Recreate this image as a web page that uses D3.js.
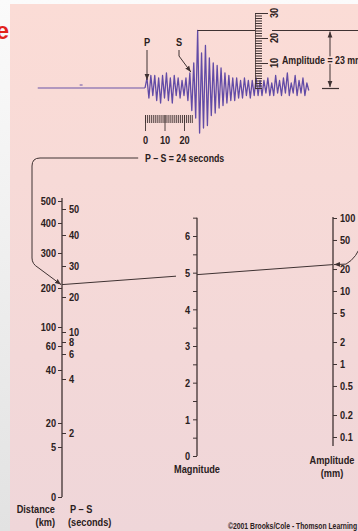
<!DOCTYPE html>
<html>
<head>
<meta charset="utf-8">
<script src="https://cdn.jsdelivr.net/npm/d3@7"></script>
<style>
  html, body { margin: 0; padding: 0; background: #fff; overflow: hidden; }
  svg { display: block; }
  text { font-family: "Liberation Sans", Arial, Helvetica, sans-serif; font-weight: bold; fill: #2a2020; }
</style>
</head>
<body>
<div id="chart"></div>
<script>
// nomogram scales
const distanceKm = [0, 5, 20, 40, 60, 100, 200, 300, 400, 500];
const psSeconds = [2, 4, 6, 8, 10, 20, 30, 40, 50];
const magnitudes = [0, 1, 2, 3, 4, 5, 6];
const magnitudeMinor = [0.5, 1.5, 2.5, 3.5, 4.5, 5.5, 6.5];
const amplitudeMm = [0.1, 0.2, 0.5, 1, 2, 5, 10, 20, 50, 100];

// seismogram readings
const psReading = 24;
const ampReading = 23;
const rulerSeconds = [0, 1, 2, 3, 4, 5, 6, 7, 8, 9, 10, 11, 12, 13, 14, 15, 16, 17, 18, 19, 20, 21, 22, 23, 24];
const rulerLabels = [0, 10, 20];
const ampRulerMm = [0, 1, 2, 3, 4, 5, 6, 7, 8, 9, 10, 11, 12, 13, 14, 15, 16, 17, 18, 19, 20, 21, 22, 23, 24, 25, 26, 27, 28, 29, 30];
const ampRulerLabels = [10, 20, 30];

// trace displacement (mm), one value per second after the P arrival
const waveMm = [
  0, 4, -4, 5, -3, 5, -5, 4, -6, 5, -4, 6, -5, 4, -6, 5, -3, 4, -4, 3, -3, 4, -5, 6,
  -9, 10, -12, 23, -18, 14, -16, 17, -15, 12, -11, 10, -10, 9, -8, 8, -7,
  6, -6, 5, -5, 4, -5, 4, -4, 3, -4, 4, -3, 3, -4, 3, -3, 4, -3, 3, -3,
  3, -2, 4, -3, 2, -3, 5, -2, 3, -3, 4, -2, 6, -3, 2, -2, 5, -3, 3, -2, 4, -3, 2, -1
];

const W = 358, H = 531;
const INK = '#3f3232';
const svg = d3.select('#chart').append('svg').attr('width', W).attr('height', H);
const defs = svg.append('defs');

const bg = defs.append('linearGradient').attr('id', 'bg').attr('x1', 0).attr('x2', 0).attr('y1', 0).attr('y2', 1);
bg.append('stop').attr('offset', '0%').attr('stop-color', '#fbdcd6');
bg.append('stop').attr('offset', '100%').attr('stop-color', '#efd6d9');
const side = defs.append('linearGradient').attr('id', 'side').attr('x1', 0).attr('x2', 0).attr('y1', 0).attr('y2', 1);
side.append('stop').attr('offset', '0%').attr('stop-color', '#fbfbfb');
side.append('stop').attr('offset', '100%').attr('stop-color', '#e2e2e2');

defs.append('marker').attr('id', 'arrow')
  .attr('viewBox', '0 0 10 10').attr('refX', 10).attr('refY', 5)
  .attr('markerWidth', 6).attr('markerHeight', 6).attr('markerUnits', 'userSpaceOnUse')
  .attr('orient', 'auto-start-reverse')
  .append('path').attr('d', 'M0,1L10,5L0,9z').attr('fill', INK);

svg.append('rect').attr('width', W).attr('height', H).attr('fill', 'url(#side)');
svg.append('rect').attr('x', 10).attr('y', 4).attr('width', W - 10).attr('height', H - 4).attr('fill', 'url(#bg)');

// cut-off title letter
svg.append('text').attr('class', 'title').attr('x', 9).attr('y', 39).attr('text-anchor', 'end')
  .style('font-size', '24px').style('fill', '#e2231c').text('e');

/* ---------- Seismogram ---------- */
const tX = d3.scaleLinear().domain([0, 10]).range([145, 164.5]);
const aY = d3.scaleLinear().domain([0, 30]).range([88, 13]);

svg.append('line').attr('x1', tX(-55)).attr('x2', tX(0)).attr('y1', aY(0)).attr('y2', aY(0))
  .attr('stroke', '#6a55a8').attr('stroke-width', 1.2);
svg.append('line').attr('x1', tX(-33.5)).attr('x2', tX(-32)).attr('y1', aY(1.2)).attr('y2', aY(1.2))
  .attr('stroke', '#6a55a8').attr('stroke-width', 1);

svg.append('path').datum(waveMm)
  .attr('fill', 'none').attr('stroke', '#624ba6').attr('stroke-width', 1.3).attr('stroke-linejoin', 'round')
  .attr('d', d3.line().x((d, i) => tX(i)).y(d => aY(d)));

// P and S markers
svg.append('text').attr('x', tX(0) + 2).attr('y', 42).attr('dy', '0.35em').attr('text-anchor', 'middle')
  .style('font-size', '11.5px').text('P');
svg.append('line').attr('x1', tX(0) + 2).attr('x2', tX(0) + 2).attr('y1', 50).attr('y2', 80)
  .attr('stroke', INK).attr('stroke-width', 1).attr('marker-end', 'url(#arrow)');
svg.append('text').attr('x', 179).attr('y', 42).attr('dy', '0.35em').attr('text-anchor', 'middle')
  .style('font-size', '11.5px').text('S');
svg.append('path').attr('d', `M179,50V56L${tX(psReading) - 1},72`)
  .attr('fill', 'none').attr('stroke', INK).attr('stroke-width', 1).attr('marker-end', 'url(#arrow)');

// time ruler
const rulerY = 115;
const rulerMinor = svg.append('g').attr('transform', `translate(0,${rulerY})`).attr('color', INK)
  .call(d3.axisBottom(tX).tickValues(rulerSeconds).tickSize(8).tickFormat(''));
rulerMinor.select('.domain').remove();
const rulerMajor = svg.append('g').attr('transform', `translate(0,${rulerY})`).attr('color', INK)
  .call(d3.axisBottom(tX).tickValues(rulerLabels).tickSize(16).tickPadding(5).tickFormat(d3.format('d')));
rulerMajor.select('.domain').remove();
rulerMajor.attr('font-family', null).attr('font-size', null);
rulerMajor.selectAll('text').style('font-size', '11.5px');
svg.selectAll('.tick line').attr('stroke-width', 0.9);

svg.append('text').attr('x', 145).attr('y', 158).attr('dy', '0.35em')
  .style('font-size', '11px').text(`P – S = ${psReading} seconds`);

// amplitude ruler
const ampRulerX = 255;
const arMinor = svg.append('g').attr('transform', `translate(${ampRulerX},0)`).attr('color', INK)
  .call(d3.axisRight(aY).tickValues(ampRulerMm).tickSize(7).tickFormat(''));
arMinor.select('.domain').attr('stroke-width', 0.8);
const arMajor = svg.append('g').attr('transform', `translate(${ampRulerX},0)`).attr('color', INK)
  .call(d3.axisRight(aY).tickValues(ampRulerLabels).tickSize(13).tickFormat(''));
arMajor.select('.domain').remove();
svg.selectAll('.arLabel').data(ampRulerLabels).enter().append('text')
  .attr('transform', d => `translate(${ampRulerX + 19},${aY(d)}) rotate(-90)`)
  .attr('dy', '0.35em').attr('text-anchor', 'middle').style('font-size', '11.5px').text(d => d);

// amplitude measurement
const topY = aY(ampReading);
svg.append('line').attr('x1', tX(27)).attr('x2', ampRulerX).attr('y1', topY).attr('y2', topY)
  .attr('stroke', INK).attr('stroke-width', 1);
svg.append('line').attr('x1', ampRulerX + 17).attr('x2', W).attr('y1', topY).attr('y2', topY)
  .attr('stroke', INK).attr('stroke-width', 1);
svg.append('line').attr('x1', 330).attr('x2', 330).attr('y1', topY + 1).attr('y2', aY(0) - 1)
  .attr('stroke', INK).attr('stroke-width', 1)
  .attr('marker-start', 'url(#arrow)').attr('marker-end', 'url(#arrow)');
svg.append('line').attr('x1', 322).attr('x2', 339).attr('y1', aY(0) + 0.5).attr('y2', aY(0) + 0.5)
  .attr('stroke', INK).attr('stroke-width', 1.2);
svg.append('text').attr('x', 282).attr('y', aY(11)).attr('dy', '0.35em')
  .style('font-size', '11px').style('stroke', '#fadbd6').style('stroke-width', 3).style('paint-order', 'stroke')
  .text(`Amplitude = ${ampReading} mm`);

/* ---------- Nomogram ---------- */
const leftX = 62, magX = 197, ampX = 333;
const distScale = d3.scaleLinear().domain(distanceKm).range([497, 447, 423, 370, 346, 327, 288, 253, 223, 201]);
const psScale = d3.scaleLinear().domain(psSeconds).range([433, 379, 354, 342, 332, 297, 266, 235, 209]);
const magScale = d3.scaleLinear().domain([0, 6]).range([456, 236]);
const ampScale = d3.scaleLog().domain([0.1, 100]).range([437, 218]);

function styleAxis(g) {
  g.attr('color', INK).attr('font-family', null).attr('font-size', null);
  g.select('.domain').remove();
  g.selectAll('text').style('font-size', '11.5px');
  g.selectAll('.tick line').attr('stroke-width', 1);
}

// distance / P-S axis
svg.append('line').attr('x1', leftX).attr('x2', leftX).attr('y1', 198).attr('y2', distScale(0))
  .attr('stroke', INK).attr('stroke-width', 1.3);
svg.append('g').attr('transform', `translate(${leftX},0)`)
  .call(d3.axisLeft(distScale).tickValues(distanceKm).tickSize(4).tickPadding(2).tickFormat(d3.format('d')))
  .call(styleAxis);
svg.append('g').attr('transform', `translate(${leftX},0)`)
  .call(d3.axisRight(psScale).tickValues(psSeconds).tickSize(4).tickPadding(3).tickFormat(d3.format('d')))
  .call(styleAxis);

// magnitude axis
svg.append('line').attr('x1', magX).attr('x2', magX).attr('y1', magScale(6.5)).attr('y2', magScale(0))
  .attr('stroke', INK).attr('stroke-width', 1.3);
svg.append('g').attr('transform', `translate(${magX},0)`)
  .call(d3.axisLeft(magScale).tickValues(magnitudes).tickSize(4).tickPadding(3).tickFormat(d3.format('d')))
  .call(styleAxis);
svg.append('g').attr('transform', `translate(${magX},0)`)
  .call(d3.axisLeft(magScale).tickValues(magnitudeMinor).tickSize(4).tickFormat(''))
  .call(styleAxis);

// amplitude axis
svg.append('line').attr('x1', ampX).attr('x2', ampX).attr('y1', ampScale(100) - 1).attr('y2', ampScale(0.075))
  .attr('stroke', INK).attr('stroke-width', 1.3);
svg.append('g').attr('transform', `translate(${ampX},0)`)
  .call(d3.axisRight(ampScale).tickValues(amplitudeMm).tickSize(4).tickPadding(3).tickFormat(d3.format('~g')))
  .call(styleAxis);

// connector from P-S reading to the distance axis
const psY = psScale(psReading);
svg.append('path')
  .attr('d', `M${tX(-3.5)},158H40Q32,158 32,166V258Q32,264 38,267.5L${leftX - 1},${psY}`)
  .attr('fill', 'none').attr('stroke', INK).attr('stroke-width', 1).attr('marker-end', 'url(#arrow)');

// straight line across the nomogram
const ampY = ampScale(ampReading);
const lineY = x => psY + (ampY - psY) * (x - leftX) / (ampX - leftX);
svg.append('line').attr('x1', leftX).attr('y1', psY).attr('x2', 176).attr('y2', lineY(176))
  .attr('stroke', INK).attr('stroke-width', 1);
svg.append('line').attr('x1', magX).attr('y1', lineY(magX)).attr('x2', ampX).attr('y2', ampY)
  .attr('stroke', INK).attr('stroke-width', 1);

// connector from the amplitude reading
svg.append('path')
  .attr('d', `M362,242Q357,258 346,${ampY - 0.5}L${ampX + 1},${ampY}`)
  .attr('fill', 'none').attr('stroke', INK).attr('stroke-width', 1).attr('marker-end', 'url(#arrow)');

// axis titles
svg.append('text').attr('x', 55).attr('y', 509).attr('dy', '0.35em').attr('text-anchor', 'end').style('font-size', '11.5px').text('Distance');
svg.append('text').attr('x', 55).attr('y', 522).attr('dy', '0.35em').attr('text-anchor', 'end').style('font-size', '11.5px').text('(km)');
svg.append('text').attr('x', 70).attr('y', 509).attr('dy', '0.35em').style('font-size', '11.5px').text('P – S');
svg.append('text').attr('x', 68).attr('y', 522).attr('dy', '0.35em').style('font-size', '11.5px').text('(seconds)');
svg.append('text').attr('x', magX).attr('y', 469).attr('dy', '0.35em').attr('text-anchor', 'middle').style('font-size', '11.5px').text('Magnitude');
svg.append('text').attr('x', 332).attr('y', 460).attr('dy', '0.35em').attr('text-anchor', 'middle').style('font-size', '11.5px').text('Amplitude');
svg.append('text').attr('x', 332).attr('y', 473).attr('dy', '0.35em').attr('text-anchor', 'middle').style('font-size', '11.5px').text('(mm)');

svg.append('text').attr('x', 228).attr('y', 526).attr('dy', '0.35em').style('font-size', '8.5px').text('©2001 Brooks/Cole - Thomson Learning');

// condensed lettering: squeeze every label horizontally about its anchor
svg.selectAll('text').filter(function () { return !this.classList.contains('title'); })
  .each(function () {
    const t = d3.select(this);
    const x = +t.attr('x') || 0;
    const prev = t.attr('transform') || '';
    t.attr('transform', `${prev} translate(${x},0) scale(0.8,1) translate(${-x},0)`);
  });
</script>
</body>
</html>
